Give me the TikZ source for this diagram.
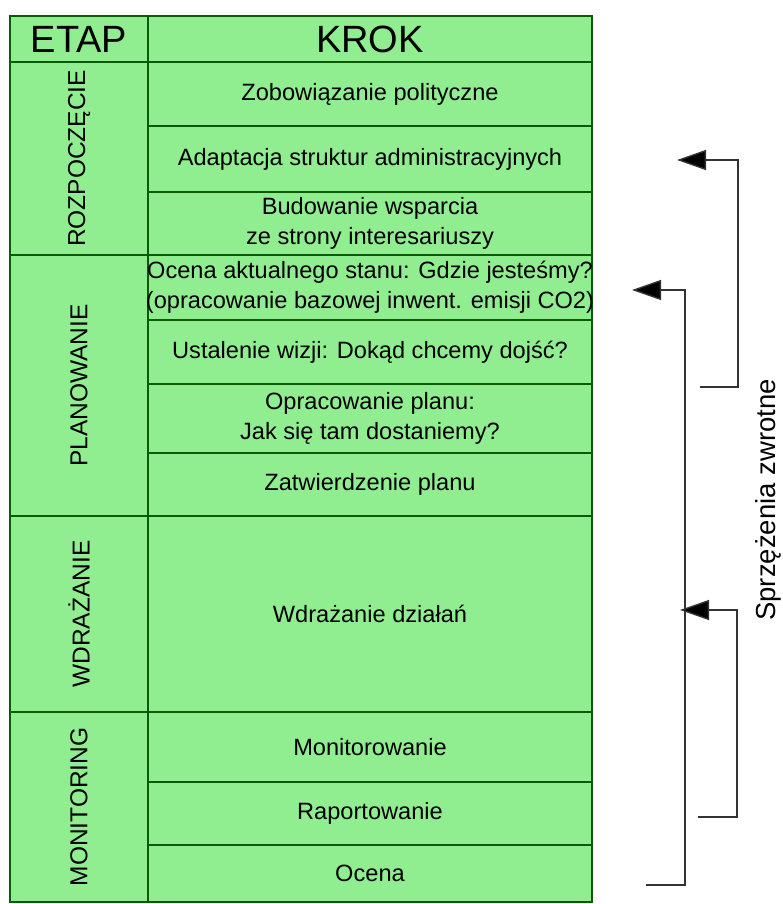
\documentclass[tikz,border=0pt]{standalone}
\usepackage{fontspec}
\setmainfont{Liberation Sans}
\usetikzlibrary{arrows.meta}
\definecolor{cellfill}{HTML}{90EE90}
\definecolor{cellline}{HTML}{0B5A0B}
\definecolor{fbline}{HTML}{333333}
\begin{document}
\begin{tikzpicture}[x=1pt,y=-1pt,
  cell/.style={draw=cellline,fill=cellfill,line width=2.6pt,anchor=north west,inner sep=0pt,outer sep=0pt,align=center,font=\fontsize{23.6}{30}\selectfont},
  etap/.style={cell},
  etaplabel/.style={rotate=90,font=\fontsize{24.5}{28}\selectfont},
  celltext/.style={inner sep=0pt,align=center,font=\fontsize{23.6}{30}\selectfont},
  head/.style={cell,font=\fontsize{38}{40}\selectfont},
  fb/.style={draw=fbline,line width=1.4pt},
  fbarrow/.style={fb,-{Triangle[length=29pt,width=20pt,fill=black]}}]
\useasboundingbox (0,0) rectangle (783,904);
% header
\node[head,minimum width=138pt,minimum height=46pt] (hEtap) at (10,16) {ETAP};
\node[head,minimum width=444pt,minimum height=46pt] (hKrok) at (148,16) {KROK};
% etap cells
\node[etap,minimum width=138pt,minimum height=193pt] (eRoz) at (10,62) {};
\node[etaplabel] (lRoz) at (eRoz.center) {ROZPOCZĘCIE};
\node[etap,minimum width=138pt,minimum height=261pt] (ePlan) at (10,255) {};
\node[etaplabel] (lPlan) at (ePlan.center) {PLANOWANIE};
\node[etap,minimum width=138pt,minimum height=196pt] (eWdr) at (10,516) {};
\node[etaplabel] (lWdr) at (eWdr.center) {WDRAŻANIE};
\node[etap,minimum width=138pt,minimum height=190pt] (eMon) at (10,712) {};
\node[etaplabel] (lMon) at (eMon.center) {MONITORING};
% krok cells
\node[cell,minimum width=444pt,minimum height=64pt] (k1) at (148,62) {Zobowiązanie polityczne};
\node[cell,minimum width=444pt,minimum height=66pt] (k2) at (148,126) {Adaptacja struktur administracyjnych};
\node[cell,minimum width=444pt,minimum height=63pt] (k3) at (148,192) {Budowanie wsparcia\\ze strony interesariuszy};
\node[cell,minimum width=444pt,minimum height=65pt] (k4) at (148,255) {};
\node[celltext] (k4text) at (k4.center) {Ocena aktualnego stanu: Gdzie jesteśmy?\\(opracowanie bazowej inwent. emisji CO2)};
\node[cell,minimum width=444pt,minimum height=64pt] (k5) at (148,320) {Ustalenie wizji: Dokąd chcemy dojść?};
\node[cell,minimum width=444pt,minimum height=69pt] (k6) at (148,384) {Opracowanie planu:\\Jak się tam dostaniemy?};
\node[cell,minimum width=444pt,minimum height=63pt] (k7) at (148,453) {Zatwierdzenie planu};
\node[cell,minimum width=444pt,minimum height=196pt] (k8) at (148,516) {Wdrażanie działań};
\node[cell,minimum width=444pt,minimum height=70pt] (k9) at (148,712) {Monitorowanie};
\node[cell,minimum width=444pt,minimum height=63pt] (k10) at (148,782) {Raportowanie};
\node[cell,minimum width=444pt,minimum height=57pt] (k11) at (148,845) {Ocena};
% feedback brackets
\coordinate (a1s) at (700,387);
\coordinate (a1t) at (677,160);
\draw[fbarrow] (a1s) -| (738,160) -- (a1t);
\coordinate (a2s) at (646,885);
\coordinate (a2t) at (632,290);
\draw[fbarrow] (a2s) -| (685,290) -- (a2t);
\coordinate (a3s) at (698,817);
\coordinate (a3t) at (680,610);
\draw[fbarrow] (a3s) -| (737,610) -- (a3t);
\node[rotate=90,font=\fontsize{27.5}{30}\selectfont] (fbLabel) at (768,500) {Sprzężenia zwrotne};
\end{tikzpicture}
\end{document}
